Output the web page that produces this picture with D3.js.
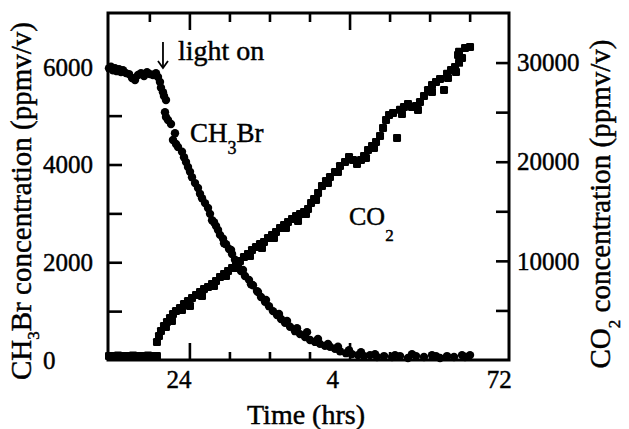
<!DOCTYPE html>
<html><head><meta charset="utf-8">
<script src="https://cdn.jsdelivr.net/npm/d3@7"></script>
<style>
html,body{margin:0;padding:0;background:#fff;}
svg{display:block;font-family:"Liberation Serif","Times New Roman",serif;}
svg text{stroke:#000;stroke-width:0.45px;fill:#000;}
</style></head><body>
<svg id="chart" width="629" height="429"></svg>
<script>
// ---- data ----
const ch3brTime = [11.95,12.25,12.55,12.85,13.15,13.45,13.75,14.05,14.50,14.95,15.40,15.85,16.30,16.75,17.20,17.65,18.09,18.54,18.99,19.29,
  19.59,19.74,20.04,20.19,20.49,20.34,20.49,20.79,21.24,21.84,21.54,21.99,22.29,22.89,23.19,23.49,23.79,24.09,24.39,24.84,
  25.29,25.59,25.89,26.34,26.79,27.09,27.69,28.29,28.59,29.04,29.49,29.94,30.39,30.83,31.28,31.73,32.33,32.93,33.53,34.13,
  34.73,35.33,35.93,36.53,37.13,37.73,38.33,39.08,39.83,40.58,41.33,42.08,42.83,43.57,44.32,45.07,45.82,46.57,47.47,48.37,
  49.27,50.17,51.07,52.12,53.17,54.37,55.56,56.76,57.96,59.16,60.36,61.56,62.61,63.66,64.86,66.06,
  27.39,27.99,29.19,30.24,32.03,33.23,34.28,35.48,37.43,38.63,40.13,41.63,43.27,44.77,46.27,47.92,49.72,51.82,54.82,57.36,60.96,65.31];
const ch3brValue = [5970,6000,5930,5970,5910,5950,5890,5930,5870,5850,5770,5730,5830,5870,5810,5890,5850,5830,5870,5790,
  5690,5570,5480,5400,5320,5070,4970,4910,4830,4640,4500,4420,4360,4260,4150,4050,3950,3850,3740,3620,
  3520,3400,3310,3210,3110,2990,2820,2660,2560,2480,2370,2270,2170,2050,1920,1820,1720,1640,1530,1410,
  1290,1190,1100,1000,920,840,760,680,590,530,470,410,370,330,290,270,230,180,140,120,
  100,80,100,60,80,60,80,40,80,60,100,40,80,60,100,100,
  2860,2740,2390,2250,1840,1550,1390,1230,940,800,650,570,430,330,270,200,160,120,100,120,80,60];

const co2Time = [11.95,12.40,12.85,13.30,13.75,14.20,14.65,15.10,15.55,16.00,16.45,16.90,17.35,17.80,18.24,18.69,19.14,
  19.14,19.44,19.74,20.19,20.64,21.09,21.54,21.99,22.59,23.19,23.79,24.39,24.99,25.59,26.19,26.79,27.39,27.99,28.59,29.19,
  29.79,30.39,30.98,31.58,32.18,32.78,33.38,33.98,34.58,35.18,35.78,36.38,36.98,37.58,38.18,38.78,39.38,39.98,40.58,41.18,
  41.78,42.23,42.68,43.28,43.87,44.47,45.07,45.82,46.57,47.32,47.92,48.52,49.12,49.72,50.17,50.77,51.37,51.97,52.57,53.02,
  53.47,53.92,54.52,55.12,55.56,56.16,56.76,57.36,57.96,58.56,59.16,59.76,60.36,60.96,61.56,62.16,62.61,63.21,63.81,64.41,
  64.86,64.41,65.31,66.06,
  20.49,21.39,22.89,24.09,25.89,27.69,29.49,31.28,33.08,34.88,36.68,38.48,40.28,41.48,42.98,44.77,46.27,50.47,51.67,55.86,
  58.26,60.36,62.76,63.96,64.26];
const co2Value = [400,350,400,450,350,400,400,350,450,400,350,400,400,450,350,400,400,
  1820,2420,2930,3430,3830,4240,4640,4940,5250,5650,5950,6260,6560,6860,7160,7370,7670,7970,8370,8680,
  8980,9280,9690,9990,10390,10700,11100,11400,11700,11910,12310,12610,12920,13320,13620,13920,14230,14530,14730,14930,
  15240,15840,16240,16850,17560,18060,18460,18970,19570,19980,20480,20180,19780,20180,20580,21190,21590,22000,22600,23410,
  24220,24720,24920,22400,25230,25530,25830,25530,25630,26030,26640,27240,27750,28050,28350,27240,28860,29260,29560,29970,
  30470,31080,31480,31580,
  3330,3930,5040,5450,6460,7470,8480,9280,10490,11300,12310,13320,14020,14730,16140,17860,18970,20380,21390,24820,
  25220,27040,28450,29060,30770];

const xMinorTicks = [18,30,36,42,54,60,66];
const xMajorTicks = [24,48];
const xLabelTimes = [24,48,72];
const xLabelTexts = ["24","4","72"];
const leftTicks = [1000,2000,3000,4000,5000,6000];
const leftLabels = [0,2000,4000,6000];
const rightTicks = [5000,10000,15000,20000,25000,30000];
const rightLabels = [10000,20000,30000];

// ---- layout ----
const svg = d3.select("#chart");
const L = 108, R = 509, T = 13, B = 360;
const x = d3.scaleLinear().domain([11.8, 71.9]).range([L, R]);
const yL = d3.scaleLinear().domain([0, 7100]).range([B, T]);
const yR = d3.scaleLinear().domain([0, 35000]).range([B, T]);

function axisG(gen, tx, ty) {
  const g = svg.append("g").attr("transform", `translate(${tx},${ty})`).call(gen);
  g.select(".domain").remove();
  g.selectAll(".tick line").attr("stroke", "#000").attr("stroke-width", 2.6);
  g.selectAll(".tick text").remove();
  return g;
}
axisG(d3.axisBottom(x).tickValues(xMinorTicks).tickSize(-8), 0, B);
axisG(d3.axisBottom(x).tickValues(xMajorTicks).tickSize(-17), 0, B);
axisG(d3.axisTop(x).tickValues(xMinorTicks).tickSize(-9), 0, T);
axisG(d3.axisTop(x).tickValues(xMajorTicks).tickSize(-17), 0, T);
axisG(d3.axisLeft(yL).tickValues(leftTicks).tickSize(-14), L, 0);
axisG(d3.axisRight(yR).tickValues(rightTicks).tickSize(-13), R, 0);

// frame
svg.append("rect").attr("x", L).attr("y", T).attr("width", R - L).attr("height", B - T)
  .attr("fill", "none").attr("stroke", "#000").attr("stroke-width", 3);

// tick labels
svg.append("g").selectAll("text").data(leftLabels).join("text")
  .attr("x", 43).attr("y", d => yL(d)).attr("dy", "0.35em")
  .attr("font-size", 25).text(d => d);
svg.append("g").selectAll("text").data(rightLabels).join("text")
  .attr("x", 517).attr("y", d => yR(d)).attr("dy", "0.35em")
  .attr("font-size", 25).text(d => d);
svg.append("g").selectAll("text").data(xLabelTimes).join("text")
  .attr("x", d => x(d) - 23).attr("y", 388)
  .attr("font-size", 25).text((d, i) => xLabelTexts[i]);

// axis titles
svg.append("text").attr("x", 306).attr("y", 424).attr("text-anchor", "middle")
  .attr("font-size", 28).text("Time (hrs)");

const lt = svg.append("text").attr("transform", "translate(31,201) rotate(-90)")
  .attr("text-anchor", "middle").attr("font-size", 29);
lt.append("tspan").text("CH");
lt.append("tspan").attr("font-size", 17).attr("dy", 8).text("3");
lt.append("tspan").attr("dy", -8).text("Br concentration (ppmv/v)");

const rt = svg.append("text").attr("transform", "translate(610,204) rotate(-90)")
  .attr("text-anchor", "middle").attr("font-size", 29);
rt.append("tspan").text("CO");
rt.append("tspan").attr("font-size", 17).attr("dy", 10).text("2");
rt.append("tspan").attr("dy", -10).text(" concentration (ppmv/v)");

// data marks
svg.append("g").selectAll("circle").data(ch3brTime).join("circle")
  .attr("cx", d => x(d)).attr("cy", (d, i) => yL(ch3brValue[i]))
  .attr("r", 4.2).attr("fill", "#000");
svg.append("g").selectAll("rect").data(co2Time).join("rect")
  .attr("x", d => x(d) - 4).attr("y", (d, i) => yR(co2Value[i]) - 4)
  .attr("width", 8).attr("height", 8).attr("rx", 1.2).attr("fill", "#000");

// annotations
const arrowT = 20.04;
const ax = x(arrowT), ay0 = yL(6506), ay1 = yL(5974);
svg.append("line").attr("x1", ax).attr("x2", ax).attr("y1", ay0).attr("y2", ay1)
  .attr("stroke", "#000").attr("stroke-width", 1.8);
svg.append("path").attr("d", `M${ax - 5},${ay1 - 7} L${ax},${ay1} L${ax + 5},${ay1 - 7}`)
  .attr("fill", "none").attr("stroke", "#000").attr("stroke-width", 1.8);
svg.append("text").attr("x", x(22.29)).attr("y", yL(6138)).attr("font-size", 28).text("light on");

const c1 = svg.append("text").attr("x", x(24.09)).attr("y", yL(4460)).attr("font-size", 27);
c1.append("tspan").text("CH");
c1.append("tspan").attr("font-size", 18).attr("dy", 12).text("3");
c1.append("tspan").attr("dy", -12).text("Br");

const c2 = svg.append("text").attr("x", x(47.92)).attr("y", yR(13620)).attr("font-size", 26);
c2.append("tspan").text("CO");
c2.append("tspan").attr("font-size", 17).attr("dy", 16).text("2");
</script>
</body></html>
